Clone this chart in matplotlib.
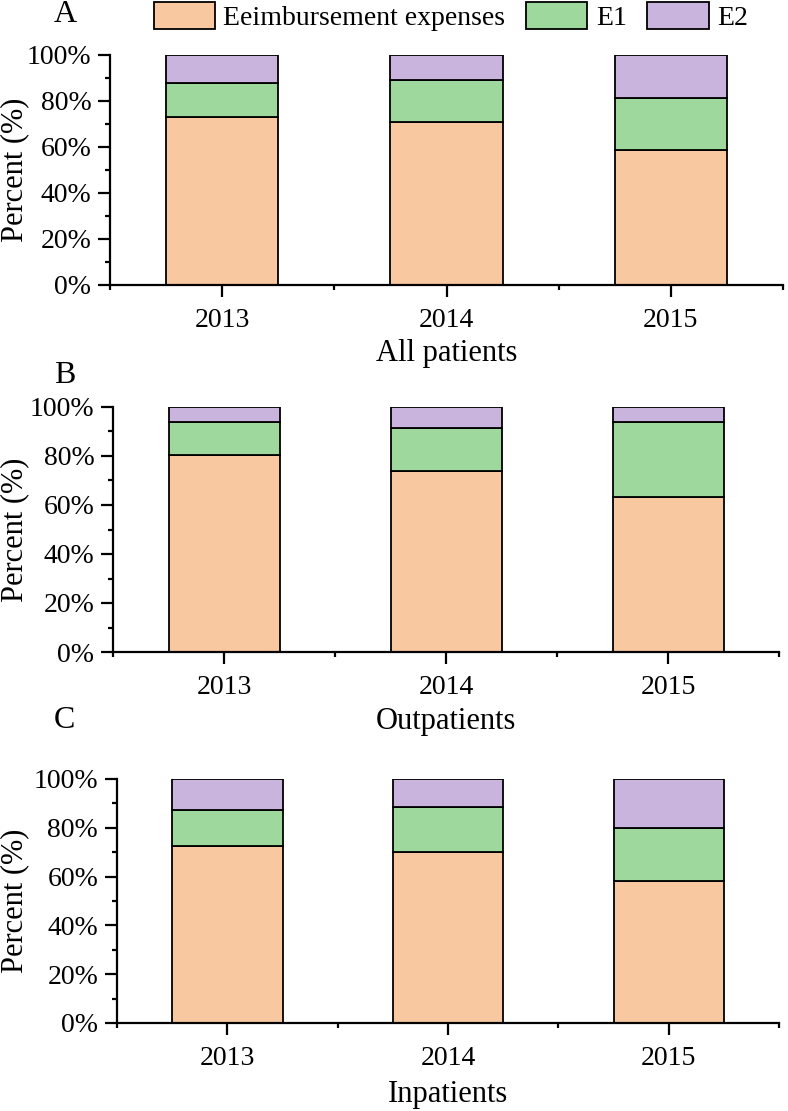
import matplotlib
matplotlib.use("Agg")
import matplotlib.pyplot as plt
import numpy as np
from matplotlib.ticker import MultipleLocator, FixedLocator

plt.rcParams['font.family'] = ['Liberation Serif', 'DejaVu Serif']

years = ["2013", "2014", "2015"]
series_names = ["Eeimbursement expenses", "E1", "E2"]
colors = ["#F8C9A0", "#9ED89C", "#C8B4DC"]

# panel data (percent)
all_reimb = [73.2, 70.7, 58.7]
all_e1 = [14.8, 18.6, 22.6]
all_e2 = [12.0, 10.7, 18.7]

out_reimb = [80.3, 73.8, 63.4]
out_e1 = [13.5, 17.8, 30.6]
out_e2 = [6.2, 8.4, 6.0]

in_reimb = [72.4, 70.1, 58.2]
in_e1 = [14.9, 18.4, 21.8]
in_e2 = [12.7, 11.5, 20.0]

panels = [
    ("A", "All patients", [all_reimb, all_e1, all_e2]),
    ("B", "Outpatients", [out_reimb, out_e1, out_e2]),
    ("C", "Inpatients", [in_reimb, in_e1, in_e2]),
]

W, H = 788, 1111
fig = plt.figure(figsize=(W / 100, H / 100), dpi=100)

# axes boxes in pixels: left, right, top, bottom
boxes = [(110, 783, 55, 285), (113, 779, 407, 652), (117, 779, 779, 1023)]
label_tops = [-0.235, -0.225, -0.232]
panel_label_pos = [(65, 14), (65, 376), (64, 721)]

handles = None
for (letter, xl, data), (l, r, t, b), lt, (px, py) in zip(panels, boxes, label_tops, panel_label_pos):
    ax = fig.add_axes([l / W, 1 - b / H, (r - l) / W, (b - t) / H])
    x = np.arange(len(years))
    bottom = np.zeros(len(years))
    hs = []
    for vals, c, name in zip(data, colors, series_names):
        h = ax.bar(x, vals, width=0.5, bottom=bottom, color=c, edgecolor="black",
                   linewidth=1.3, label=name, zorder=2)
        bottom = bottom + np.array(vals)
        hs.append(h)
    if handles is None:
        handles = hs
    ax.set_xlim(-0.5, 2.5)
    ax.set_ylim(0, 100)
    ax.spines['top'].set_visible(False)
    ax.spines['right'].set_visible(False)
    for s in ('left', 'bottom'):
        ax.spines[s].set_linewidth(1.6)
    ax.set_xticks(x)
    ax.set_xticklabels(years)
    ax.xaxis.set_minor_locator(FixedLocator([-0.5, 0.5, 1.5, 2.5]))
    ax.yaxis.set_major_locator(MultipleLocator(20))
    ax.yaxis.set_minor_locator(MultipleLocator(10))
    ax.set_yticklabels([f"{int(v)}%" for v in ax.get_yticks()])
    ax.tick_params(axis='both', which='major', direction='out', length=8.5, width=1.6,
                   labelsize=20)
    ax.tick_params(axis='x', which='major', pad=8)
    ax.tick_params(axis='y', which='major', pad=5)
    ax.tick_params(axis='both', which='minor', direction='out', length=3.6, width=1.6)
    ax.set_ylabel("Percent (%)", fontsize=22)
    ax.yaxis.set_label_coords((29 - l) / (r - l), 0.5)
    ax.set_xlabel(xl, fontsize=22, va='top')
    ax.xaxis.set_label_coords(0.5, lt)
    fig.text(px / W, 1 - py / H, letter, fontsize=23, ha='center', va='center')

fig.legend(handles, series_names, loc='upper left', bbox_to_anchor=(154 / W, 1 - 2 / H),
           ncol=3, frameon=False, fontsize=20, borderpad=0, handlelength=2.2,
           handleheight=1.1, handletextpad=0.3, columnspacing=0.75, borderaxespad=0)

fig.savefig("out.png", dpi=100)
